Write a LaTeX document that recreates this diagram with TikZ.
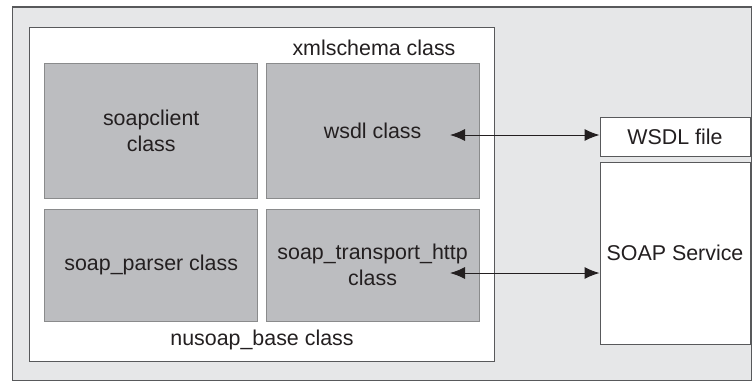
\documentclass[tikz,border=0pt]{standalone}
\usepackage{fontspec}
\setmainfont{Liberation Sans}
\usetikzlibrary{arrows.meta,positioning}
\definecolor{panelgray}{RGB}{230,231,232}
\definecolor{classgray}{RGB}{188,189,192}
\definecolor{inkgray}{RGB}{35,31,32}
\definecolor{edgegray}{RGB}{88,89,91}

\begin{document}
\begin{tikzpicture}[x=0.5pt,y=-0.5pt,
    every node/.style={text=inkgray,font=\fontsize{10.7}{13}\selectfont},
    frame/.style={draw=edgegray,line width=0.5pt,inner sep=0pt,rectangle},
    classbox/.style={draw=edgegray!70,fill=classgray,line width=0.5pt,inner sep=0pt,
      minimum width=106.6pt,align=center},
    extbox/.style={frame,fill=white,minimum width=75pt,align=center},
    link/.style={{Latex[length=7.5pt,width=6pt]}-{Latex[length=7.5pt,width=6pt]},
      draw=inkgray,line width=0.5pt}]
  \useasboundingbox (0,0) rectangle (753,382);
  % panels
  \node[frame,fill=panelgray,line width=0.7pt,minimum width=369.5pt,minimum height=186.8pt] (panel) at (382,193.8) {};
  \node[frame,fill=white,minimum width=232.3pt,minimum height=167.1pt] (base) at (261.8,194.6) {};
  \node (xmlschema) at (374,48) {xmlschema class};
  \node (nusoap) at (262,340) {nusoap\_base class};
  % classes
  \node[classbox,minimum height=67.3pt] (soapclient) at (151.2,131) {soapclient\\class};
  \node[classbox,minimum height=67.3pt] (wsdl) at (372.6,131) {wsdl class};
  \node[classbox,minimum height=56pt] (parser) at (151.2,265) {soap\_parser class};
  \node[classbox,minimum height=56pt] (transport) at (372.6,265) {soap\_transport\_http\\class};
  % outside
  \node[extbox,minimum height=19.5pt] (wsdlfile) at (675,136.5) {WSDL file};
  \node[extbox,minimum height=91.2pt] (soapsvc) at (675,253.2) {SOAP Service};
  \coordinate (wsdlport) at (450,135);
  \coordinate (httpport) at (450,273);
  \draw[link] (wsdlport) -- (wsdlport -| wsdlfile.west);
  \draw[link] (httpport) -- (httpport -| soapsvc.west);
\end{tikzpicture}
\end{document}
